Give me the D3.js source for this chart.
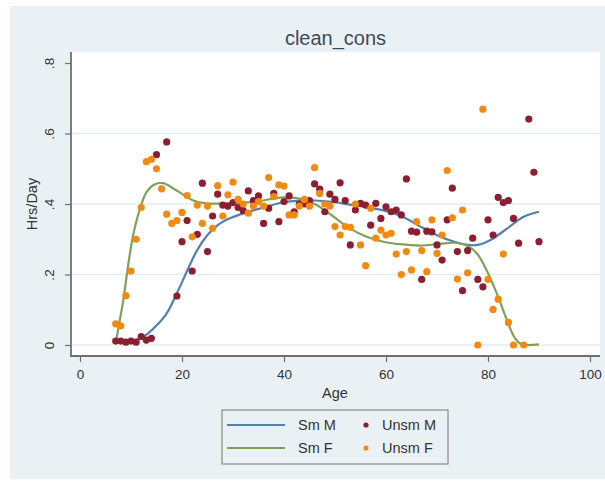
<!DOCTYPE html>
<html><head><meta charset="utf-8">
<script src="https://cdn.jsdelivr.net/npm/d3@7"></script>
<style>body{margin:0;background:#fff}svg{display:block}text{font-family:"Liberation Sans",Arial,sans-serif}</style>
</head><body>
<script>
const title = "clean_cons";
const xLabel = "Age", yLabel = "Hrs/Day";
const xTicks = [0,20,40,60,80,100];
const yTicks = [0,0.2,0.4,0.6,0.8];
const yTickLabels = ["0",".2",".4",".6",".8"];
const legendLabels = ["Sm M","Sm F","Unsm M","Unsm F"];

const unsmM_age = [7,8,9,10,11,12,13,14,15,17,19,20,21,22,23,24,25,26,27,28,29,30,31,32,33,34,35,36,37,38,39,40,41,42,43,44,45,46,47,48,49,50,51,52,53,54,55,56,57,58,59,60,61,62,63,64,65,66,67,68,69,70,71,72,73,74,75,76,77,78,79,80,81,82,83,84,85,86,88,89,90];
const unsmM_val = [0.011,0.011,0.008,0.011,0.008,0.024,0.014,0.019,0.54,0.576,0.139,0.293,0.353,0.21,0.314,0.459,0.265,0.366,0.428,0.397,0.394,0.404,0.39,0.381,0.437,0.41,0.423,0.345,0.388,0.43,0.35,0.407,0.423,0.378,0.40,0.40,0.41,0.457,0.442,0.378,0.428,0.413,0.46,0.41,0.284,0.383,0.402,0.397,0.34,0.402,0.359,0.392,0.378,0.383,0.369,0.471,0.323,0.32,0.186,0.323,0.321,0.284,0.241,0.355,0.445,0.265,0.154,0.268,0.303,0.186,0.165,0.355,0.312,0.419,0.404,0.41,0.359,0.289,0.641,0.49,0.293];

const unsmF_age = [7,8,9,10,11,12,13,14,15,16,17,18,19,20,21,22,23,24,25,26,27,28,29,30,31,32,33,34,35,36,37,38,39,40,41,42,43,44,45,46,47,48,49,50,51,52,53,54,55,56,57,58,59,60,61,62,63,64,65,66,67,68,69,70,71,72,73,74,75,76,78,79,80,81,82,83,84,85,87];
const unsmF_val = [0.06,0.054,0.14,0.21,0.30,0.39,0.52,0.527,0.50,0.443,0.371,0.345,0.353,0.376,0.424,0.307,0.397,0.345,0.394,0.331,0.452,0.366,0.426,0.462,0.413,0.40,0.374,0.394,0.407,0.394,0.475,0.421,0.454,0.451,0.369,0.369,0.394,0.413,0.394,0.503,0.43,0.40,0.394,0.336,0.312,0.336,0.334,0.40,0.284,0.225,0.388,0.303,0.326,0.312,0.317,0.258,0.20,0.265,0.213,0.35,0.268,0.208,0.355,0.26,0.312,0.495,0.361,0.187,0.383,0.205,0.0,0.669,0.186,0.101,0.13,0.258,0.064,0.0,0.0];

const smM_age = [7,10,12,13.5,15,17,19,21,23,25,27,29.5,33,36,40,46,50,53,56.5,59.5,63,66.5,69.5,72.5,76,78,80.5,84,87,90];
const smM_val = [0.01,0.011,0.02,0.035,0.055,0.09,0.147,0.21,0.27,0.312,0.34,0.36,0.378,0.39,0.405,0.41,0.405,0.398,0.39,0.382,0.366,0.338,0.315,0.297,0.284,0.284,0.298,0.333,0.364,0.378];

const smF_age = [7,7.8,8.5,9.5,10.5,11.8,13.1,14.7,16.3,18.3,20.3,22.2,24.8,29.4,34.6,39.9,43.8,46.4,49.7,52.9,56.2,59.5,62.7,66.7,70.6,73.2,75.8,77.8,79.7,81.7,83.7,85.3,86.6,90];
const smF_val = [0.005,0.07,0.128,0.232,0.317,0.388,0.435,0.456,0.459,0.444,0.426,0.41,0.402,0.402,0.407,0.419,0.413,0.397,0.364,0.331,0.307,0.293,0.286,0.282,0.287,0.29,0.282,0.26,0.213,0.147,0.071,0.019,0.002,0.002];

const C = {blue:"#5480ad", green:"#7ea25a", maroon:"#8b1f30", orange:"#f28a12", bg:"#eaf1f4", grid:"#e3eef0", axis:"#6f6f6f", text:"#333"};

const W=605,H=483;
const svg=d3.select("body").append("svg").attr("width",W).attr("height",H);
svg.append("rect").attr("x",10).attr("y",6).attr("width",W-10).attr("height",473).attr("fill",C.bg);

const x=d3.scaleLinear().domain([0,100]).range([80,590]);
const y=d3.scaleLinear().domain([0,0.8]).range([345,63]);
const P={l:71,r:600,t:52,b:356};
svg.append("rect").attr("x",P.l).attr("y",P.t).attr("width",P.r-P.l).attr("height",P.b-P.t).attr("fill","#fff");

// grid
svg.append("g").selectAll("line").data(yTicks.slice(0,4)).join("line")
 .attr("x1",P.l).attr("x2",P.r).attr("y1",d=>y(d)).attr("y2",d=>y(d))
 .attr("stroke",C.grid).attr("stroke-width",1.5);

// axes
const gx=svg.append("g").attr("transform",`translate(0,${P.b})`)
 .call(d3.axisBottom(x).tickValues(xTicks).tickSize(6).tickPadding(7).tickFormat(d3.format("d")));
const gy=svg.append("g").attr("transform",`translate(${P.l},0)`)
 .call(d3.axisLeft(y).tickValues(yTicks).tickSize(6).tickFormat((d,i)=>yTickLabels[i]));
[gx,gy].forEach(g=>{g.select(".domain").remove();g.selectAll(".tick line").attr("stroke",C.axis).attr("stroke-width",1.2);
 g.selectAll("text").attr("fill",C.text).style("font-size","13.5px");});
gy.selectAll(".tick text").attr("x",null).attr("dy",null).attr("text-anchor","middle")
 .attr("transform","translate(-17,0) rotate(-90)");
svg.append("line").attr("x1",P.l).attr("x2",P.l).attr("y1",P.t).attr("y2",P.b+1).attr("stroke",C.axis).attr("stroke-width",1.8);
svg.append("line").attr("x1",P.l-1).attr("x2",P.r).attr("y1",P.b).attr("y2",P.b).attr("stroke",C.axis).attr("stroke-width",1.8);

// lines
const line=d3.line().x(d=>x(d[0])).y(d=>y(d[1])).curve(d3.curveCatmullRom.alpha(0.5));
svg.append("path").datum(d3.zip(smM_age,smM_val)).attr("d",line).attr("fill","none").attr("stroke",C.blue).attr("stroke-width",2.2);
svg.append("path").datum(d3.zip(smF_age,smF_val)).attr("d",line).attr("fill","none").attr("stroke",C.green).attr("stroke-width",2.2);

// points
svg.append("g").selectAll("circle").data(d3.zip(unsmM_age,unsmM_val)).join("circle")
 .attr("cx",d=>x(d[0])).attr("cy",d=>y(d[1])).attr("r",3.6).attr("fill",C.maroon);
svg.append("g").selectAll("circle").data(d3.zip(unsmF_age,unsmF_val)).join("circle")
 .attr("cx",d=>x(d[0])).attr("cy",d=>y(d[1])).attr("r",3.6).attr("fill",C.orange);

// titles
svg.append("text").attr("x",(P.l+P.r)/2).attr("y",45).attr("text-anchor","middle").attr("fill","#3d4b5e").style("font-size","20px").text(title);
svg.append("text").attr("x",(x(0)+x(100))/2).attr("y",398).attr("text-anchor","middle").attr("fill",C.text).style("font-size","14.5px").text(xLabel);
svg.append("text").attr("transform",`translate(37,204) rotate(-90)`).attr("text-anchor","middle").attr("fill",C.text).style("font-size","14.5px").text(yLabel);

// legend
const lg=svg.append("g");
lg.append("rect").attr("x",222).attr("y",410).attr("width",226).attr("height",54).attr("fill",C.bg).attr("stroke","#8a8a8a").attr("stroke-width",1.2);
const rows=[{t:"line",c:C.blue,lab:legendLabels[0],col:0,row:0},{t:"line",c:C.green,lab:legendLabels[1],col:0,row:1},
 {t:"dot",c:C.maroon,lab:legendLabels[2],col:1,row:0},{t:"dot",c:C.orange,lab:legendLabels[3],col:1,row:1}];
rows.forEach(r=>{
 const yy=425+r.row*23;
 if(r.t==="line"){lg.append("line").attr("x1",227).attr("x2",285).attr("y1",yy).attr("y2",yy).attr("stroke",r.c).attr("stroke-width",2.2);
  lg.append("text").attr("x",298).attr("y",yy+5).attr("fill",C.text).style("font-size","14.5px").text(r.lab);}
 else{lg.append("circle").attr("cx",366).attr("cy",yy).attr("r",2.6).attr("fill",r.c);
  lg.append("text").attr("x",382).attr("y",yy+5).attr("fill",C.text).style("font-size","14.5px").text(r.lab);}
});
</script>
</body></html>
